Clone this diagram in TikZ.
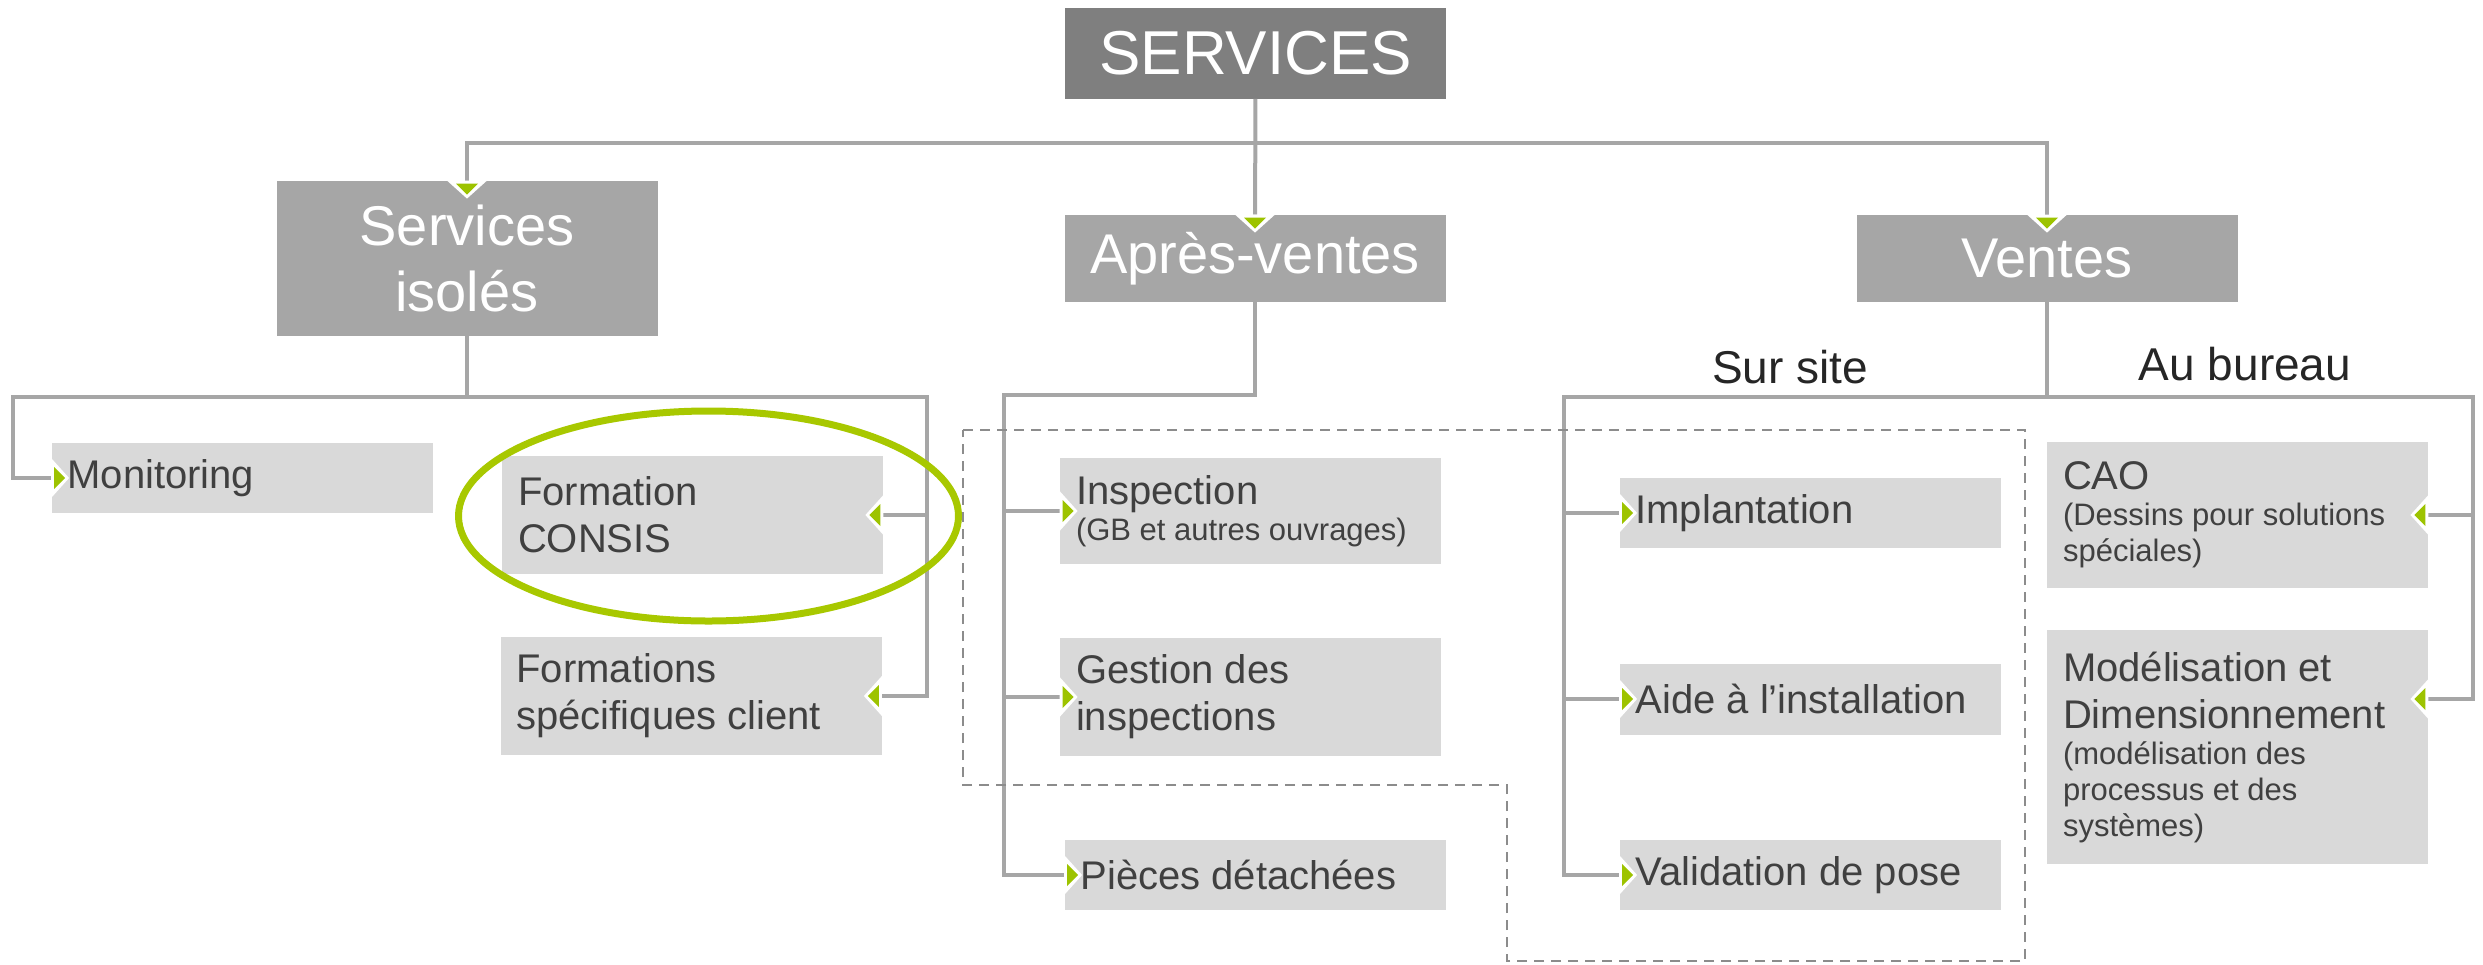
\documentclass[tikz,border=0pt]{standalone}
\usepackage{fontspec}
\setmainfont{Liberation Sans}
\usepackage{tikz}

\definecolor{rootgray}{HTML}{7F7F7F}
\definecolor{branchgray}{HTML}{A6A6A6}
\definecolor{leafgray}{HTML}{D9D9D9}
\definecolor{wiregray}{HTML}{A6A6A6}
\definecolor{textgray}{HTML}{404040}
\definecolor{dashgray}{HTML}{8C8C8C}
\definecolor{tipgreen}{HTML}{9DC300}
\definecolor{ringgreen}{HTML}{A8C800}
\newcommand{\smalltxt}[1]{{\fontsize{15.5}{18}\selectfont #1\par}}

\begin{document}
\begin{tikzpicture}[x=0.5pt, y=-0.5pt,
    rootbox/.style={rectangle, fill=rootgray, text=white, minimum width=190.5pt, minimum height=45.5pt, font=\fontsize{31}{36}\selectfont},
    branchbox/.style={rectangle, fill=branchgray, text=white, minimum width=190.5pt, minimum height=#1, align=center, font=\fontsize{28}{33}\selectfont},
    leafbox/.style={rectangle, fill=leafgray, text=textgray, text width=174.5pt, inner xsep=8pt, minimum height=#1, align=flush left, font=\fontsize{20}{23.5}\selectfont},
    sidelabel/.style={text=black!85, font=\fontsize{23}{27}\selectfont, anchor=base},
    wire/.style={draw=wiregray, line width=2pt},
    greentip/.pic={\fill[white] (-10pt,0pt) -- (10pt,0pt) -- (0pt,-9pt) -- cycle;
                   \fill[tipgreen] (-5.5pt,-1.5pt) -- (5.5pt,-1.5pt) -- (0pt,-7pt) -- cycle;}]
    \useasboundingbox (0,0) rectangle (2483,964);

    \node[rootbox] (services) at (1255.5,53) {SERVICES};
    \node[branchbox=77.5pt] (isoles) at (467,258.5) {Services\\isolés};
    \node[branchbox=43.5pt] (apres) at (1255,258.5) {Après-ventes};
    \node[branchbox=43.5pt] (ventes) at (2047,258.5) {Ventes};

    \node[leafbox=35pt] (monitoring) at (242,478) {Monitoring};
    \node[leafbox=59pt] (consis) at (692.5,515) {Formation\\CONSIS};
    \node[leafbox=59pt] (specif) at (691,696) {Formations\\spécifiques client};

    \node[leafbox=53pt] (inspection) at (1250.5,511) {Inspection\\\smalltxt{(GB et autres ouvrages)}};
    \node[leafbox=59pt] (gestion) at (1250.5,697) {Gestion des\\inspections};
    \node[leafbox=35pt] (pieces) at (1255,875) {Pièces détachées};

    \node[sidelabel] (sursite) at (1790,383) {Sur site};
    \node[sidelabel] (aubureau) at (2245,380) {Au bureau};
    \node[leafbox=35pt] (implantation) at (1810,513) {Implantation};
    \node[leafbox=35.5pt] (aide) at (1810,699) {Aide à l’installation};
    \node[leafbox=35pt] (validation) at (1810,875) {Validation de pose};
    \node[leafbox=73pt] (cao) at (2237.5,515) {CAO\\\smalltxt{(Dessins pour solutions\\spéciales)}};
    \node[leafbox=117pt] (model) at (2237.5,747) {Modélisation et\\Dimensionnement\\\smalltxt{(modélisation des\\processus et des\\systèmes)}};

    \coordinate (topbus) at (0,143);
    \coordinate (isolesL) at (13,397);
    \coordinate (isolesR) at (927,397);
    \coordinate (apresL) at (1004,395);
    \coordinate (ventesL) at (1564,397);
    \coordinate (ventesR) at (2473,397);

    \draw[wire] (services) -- (apres);
    \draw[wire] (isoles.north) |- (ventes.north |- topbus) -- (ventes.north);

    \draw[wire] (isoles.south) -- (isoles.south |- isolesL);
    \draw[wire] (monitoring.west) -| (isolesL) -- (isolesR) |- (specif.east);
    \draw[wire] (consis.east) -- (consis.east -| isolesR);

    \draw[wire] (apres.south) |- (apresL) |- (pieces.west);
    \draw[wire] (inspection.west) -- (inspection.west -| apresL);
    \draw[wire] (gestion.west) -- (gestion.west -| apresL);

    \draw[wire] (ventes.south) -- (ventes.south |- ventesL);
    \draw[wire] (validation.west) -| (ventesL) -- (ventesR) |- (model.east |- aide.west);
    \draw[wire] (implantation.west) -- (implantation.west -| ventesL);
    \draw[wire] (aide.west) -- (aide.west -| ventesL);
    \draw[wire] (cao.east) -- (cao.east -| ventesR);

    \foreach \n in {isoles, apres, ventes}
        \pic at (\n.north) {greentip};
    \foreach \n in {monitoring, inspection, gestion, pieces, implantation, aide, validation}
        \pic[rotate=90] at (\n.west) {greentip};
    \foreach \n in {consis, specif, cao}
        \pic[rotate=-90] at (\n.east) {greentip};
    \pic[rotate=-90] at (model.east |- aide.west) {greentip};

    \draw[draw=dashgray, line width=1pt, dash pattern=on 5pt off 3.5pt]
        (963,430) -- (2025,430) -- (2025,961) -- (1507,961) -- (1507,785) -- (963,785) -- cycle;

    \draw[ringgreen, line width=3.5pt] (708.5,516) ellipse [x radius=125pt, y radius=52.5pt];
\end{tikzpicture}
\end{document}
